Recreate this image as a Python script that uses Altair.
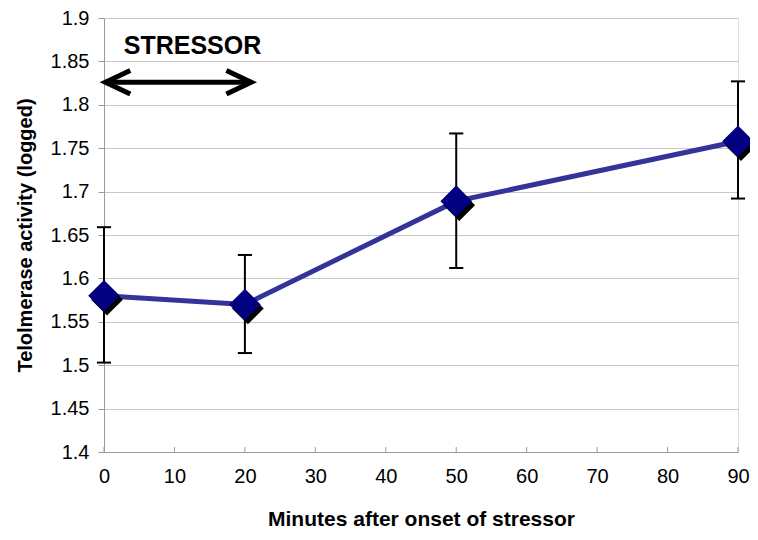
import altair as alt
import pandas as pd

# ---- data ----
minutes = [0, 20, 50, 90]
activity = [1.580, 1.570, 1.689, 1.758]
err_low = [1.503, 1.514, 1.612, 1.692]
err_high = [1.659, 1.627, 1.767, 1.827]

x_ticks = [0, 10, 20, 30, 40, 50, 60, 70, 80, 90]
y_ticks = [1.4, 1.45, 1.5, 1.55, 1.6, 1.65, 1.7, 1.75, 1.8, 1.85, 1.9]

stressor_label = ["STRESSOR"]
stressor_start = [0.2]
stressor_end = [20.9]
arrow_level = [1.826]
label_x = [2.8]
label_y = [1.858]

x_title = "Minutes after onset of stressor"
y_title = "Telolmerase activity (logged)"

# ---- tables ----
df = pd.DataFrame({"minutes": minutes, "activity": activity,
                   "lo": err_low, "hi": err_high})
arrow_df = pd.DataFrame({"x": stressor_start, "x2": stressor_end, "y": arrow_level})
label_df = pd.DataFrame({"x": label_x, "y": label_y, "text": stressor_label})
tick_df = pd.DataFrame({"x": x_ticks})

W, H = 634, 434
FONT = "Liberation Sans"

xs = alt.Scale(domain=[0, 90], nice=False, zero=False)
ys = alt.Scale(domain=[1.4, 1.9], nice=False, zero=False)

x_axis = alt.Axis(values=x_ticks, title=x_title, grid=False, ticks=False,
                  labelFontSize=20, labelPadding=14, labelColor="black",
                  titleFontSize=21, titleFontWeight="bold", titlePadding=22,
                  titleColor="black", domainColor="#9a9a9a", labelFlush=False)
y_axis = alt.Axis(values=y_ticks, title=y_title, format=".2~f", grid=True,
                  gridColor="#c8c8c8", gridWidth=1, tickSize=6,
                  tickColor="#9a9a9a", domainColor="#9a9a9a",
                  labelFontSize=20, labelPadding=9, labelColor="black",
                  titleFontSize=20, titleFontWeight="bold", titlePadding=15,
                  titleColor="black")

def X(field):
    return alt.X(field, type="quantitative", scale=xs, axis=x_axis)

def Y(field):
    return alt.Y(field, type="quantitative", scale=ys, axis=y_axis)

base = alt.Chart(df)

line = base.mark_line(color="#333399", strokeWidth=5).encode(
    x=X("minutes"), y=Y("activity"))

err_rule = base.mark_rule(color="black", strokeWidth=2).encode(
    x=X("minutes"), y=Y("lo"), y2="hi")

err_caps = base.transform_fold(["lo", "hi"], as_=["end", "val"]).mark_point(
    shape="stroke", filled=False, color="black", strokeWidth=2, size=200,
    opacity=1).encode(x=X("minutes"), y=Y("val"))

shadow = base.mark_point(shape="diamond", filled=True, color="black",
                         size=1000, opacity=1, xOffset=3, yOffset=4).encode(
    x=X("minutes"), y=Y("activity"))

diamonds = base.mark_point(shape="diamond", filled=True, color="#000080",
                           size=1000, opacity=1).encode(
    x=X("minutes"), y=Y("activity"))

x_tick_marks = alt.Chart(tick_df).mark_rule(color="#9a9a9a", strokeWidth=1).encode(
    x=X("x"), y=alt.value(H), y2=alt.value(H - 5))

shaft = alt.Chart(arrow_df).mark_rule(color="black", strokeWidth=5).encode(
    x=X("x"), x2="x2", y=Y("y"))

head_left = alt.Chart(arrow_df).mark_point(
    shape="M2.1,-1L0,0L2.1,1", filled=False, color="black", strokeWidth=5,
    size=560, opacity=1, strokeJoin="miter").encode(x=X("x"), y=Y("y"))

head_right = alt.Chart(arrow_df).mark_point(
    shape="M-2.1,-1L0,0L-2.1,1", filled=False, color="black", strokeWidth=5,
    size=560, opacity=1, strokeJoin="miter").encode(x=X("x2"), y=Y("y"))

label = alt.Chart(label_df).mark_text(
    align="left", baseline="alphabetic", fontSize=25, fontWeight="bold",
    font=FONT, color="black").encode(x=X("x"), y=Y("y"), text="text:N")

chart = alt.layer(
    line, err_rule, err_caps, shadow, diamonds, x_tick_marks,
    shaft, head_left, head_right, label
).properties(
    width=W, height=H,
    autosize=alt.AutoSizeParams(type="none"),
    padding={"left": 96, "top": 10, "right": 12, "bottom": 79},
    background="white",
).configure_view(stroke=None).configure(
    font=FONT
).configure_axis(labelFont=FONT, titleFont=FONT)

chart.save("out.html", embed_options={"renderer": "svg", "actions": False})
